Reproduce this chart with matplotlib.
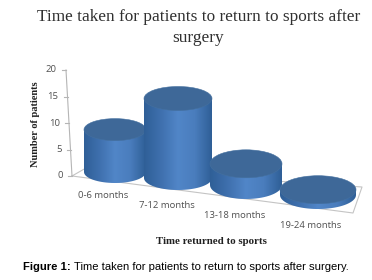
#!/usr/bin/env python3
import numpy as np
import matplotlib
matplotlib.use('Agg')
import matplotlib.pyplot as plt
from matplotlib.colors import LinearSegmentedColormap
from matplotlib.patches import Ellipse, PathPatch
from matplotlib.path import Path

categories = ['0-6 months', '7-12 months', '13-18 months', '19-24 months']
patients = [8, 15, 4, 1]
y_ticks = [0, 5, 10, 15, 20]

# fake 3D layout, in pixels of the 372x280 picture
px_per_unit = 5.3
base_x = [115, 178, 246, 318]
base_y = [172, 178, 185, 195]
half_w = [31, 34, 36, 38]
ry = [11, 12, 14, 14]
label_x = [103, 167, 235, 311]
label_y = [196, 205, 215, 225]

fig = plt.figure(figsize=(3.72, 2.80), dpi=100)
ax = fig.add_axes([0, 0, 1, 1])
ax.set_xlim(0, 372)
ax.set_ylim(280, 0)
ax.axis('off')

# floor
floor_x = [72, 353, 362, 86, 72]
floor_y = [176, 213, 187, 168, 176]
ax.plot(floor_x, floor_y, color='#c4c4c4', linewidth=0.8, zorder=1)

# y axis, ticks and labels
def tick_x(v):
    return 72 - v * 0.3

def tick_y(v):
    return 176 - v * 5.3

ax.plot([tick_x(0), tick_x(20)], [tick_y(0), tick_y(20)], color='#b5b5b5', linewidth=0.8, zorder=1)
for v in y_ticks:
    ax.plot([tick_x(v) - 4, tick_x(v)], [tick_y(v), tick_y(v)], color='#b5b5b5', linewidth=0.8, zorder=1)
    ax.text(tick_x(v) - 9, tick_y(v), str(v), ha='right', va='center', fontsize=6.8,
            family='Open Sans', color='#505050')

# cylinders
cmap = LinearSegmentedColormap.from_list('cyl', ['#2f5f97', '#3f70ae', '#5186c8', '#4a7dbd', '#2f5f97'])
grad = np.linspace(0, 1, 128).reshape(1, -1)

for i, v in enumerate(patients):
    cx = base_x[i]
    by = base_y[i]
    ty = by - v * px_per_unit
    w = half_w[i]
    r = ry[i]
    t = np.linspace(np.pi, 0, 40)
    xs = np.concatenate([[cx - w], cx + w * np.cos(t), [cx + w]])
    ys = np.concatenate([[ty], by + r * np.sin(t), [ty]])
    body = Path(np.column_stack([xs, ys]))
    clip = PathPatch(body, facecolor='none', edgecolor='none', transform=ax.transData)
    ax.add_patch(clip)
    im = ax.imshow(grad, extent=[cx - w, cx + w, by + r, ty - r], cmap=cmap, aspect='auto',
                   zorder=2 + i, interpolation='bilinear')
    im.set_clip_path(clip)
    ax.add_patch(Ellipse((cx, ty), 2 * w, 2 * r, facecolor='#3e6898', edgecolor='#44709f',
                         linewidth=0.4, zorder=2 + i))
    ax.text(label_x[i], label_y[i], categories[i], ha='center', va='center', fontsize=6.8,
            family='Open Sans', color='#505050', zorder=10)

ax.set_xlim(0, 372)
ax.set_ylim(280, 0)

# titles
ax.text(199, 17, 'Time taken for patients to return to sports after', ha='center', va='center',
        fontsize=12.4, family='Liberation Serif', color='#303030')
ax.text(198, 38, 'surgery', ha='center', va='center', fontsize=12.4,
        family='Liberation Serif', color='#303030')
ax.text(35, 124, 'Number of patients', rotation=90, ha='center', va='center', fontsize=7.5,
        family='Liberation Serif', fontweight='bold', color='#202020')
ax.text(211, 241, 'Time returned to sports', ha='center', va='center', fontsize=7.8,
        family='Liberation Serif', fontweight='bold', color='#202020')

# caption
ax.text(23, 267, 'Figure 1:', ha='left', va='center', fontsize=8.1,
        family='Liberation Sans', fontweight='bold', color='#000000')
ax.text(349, 267, 'Time taken for patients to return to sports after surgery.', ha='right', va='center',
        fontsize=8.1, family='Liberation Sans', color='#000000')

plt.savefig('out.png', dpi=100, facecolor='white', edgecolor='none')
plt.close()
